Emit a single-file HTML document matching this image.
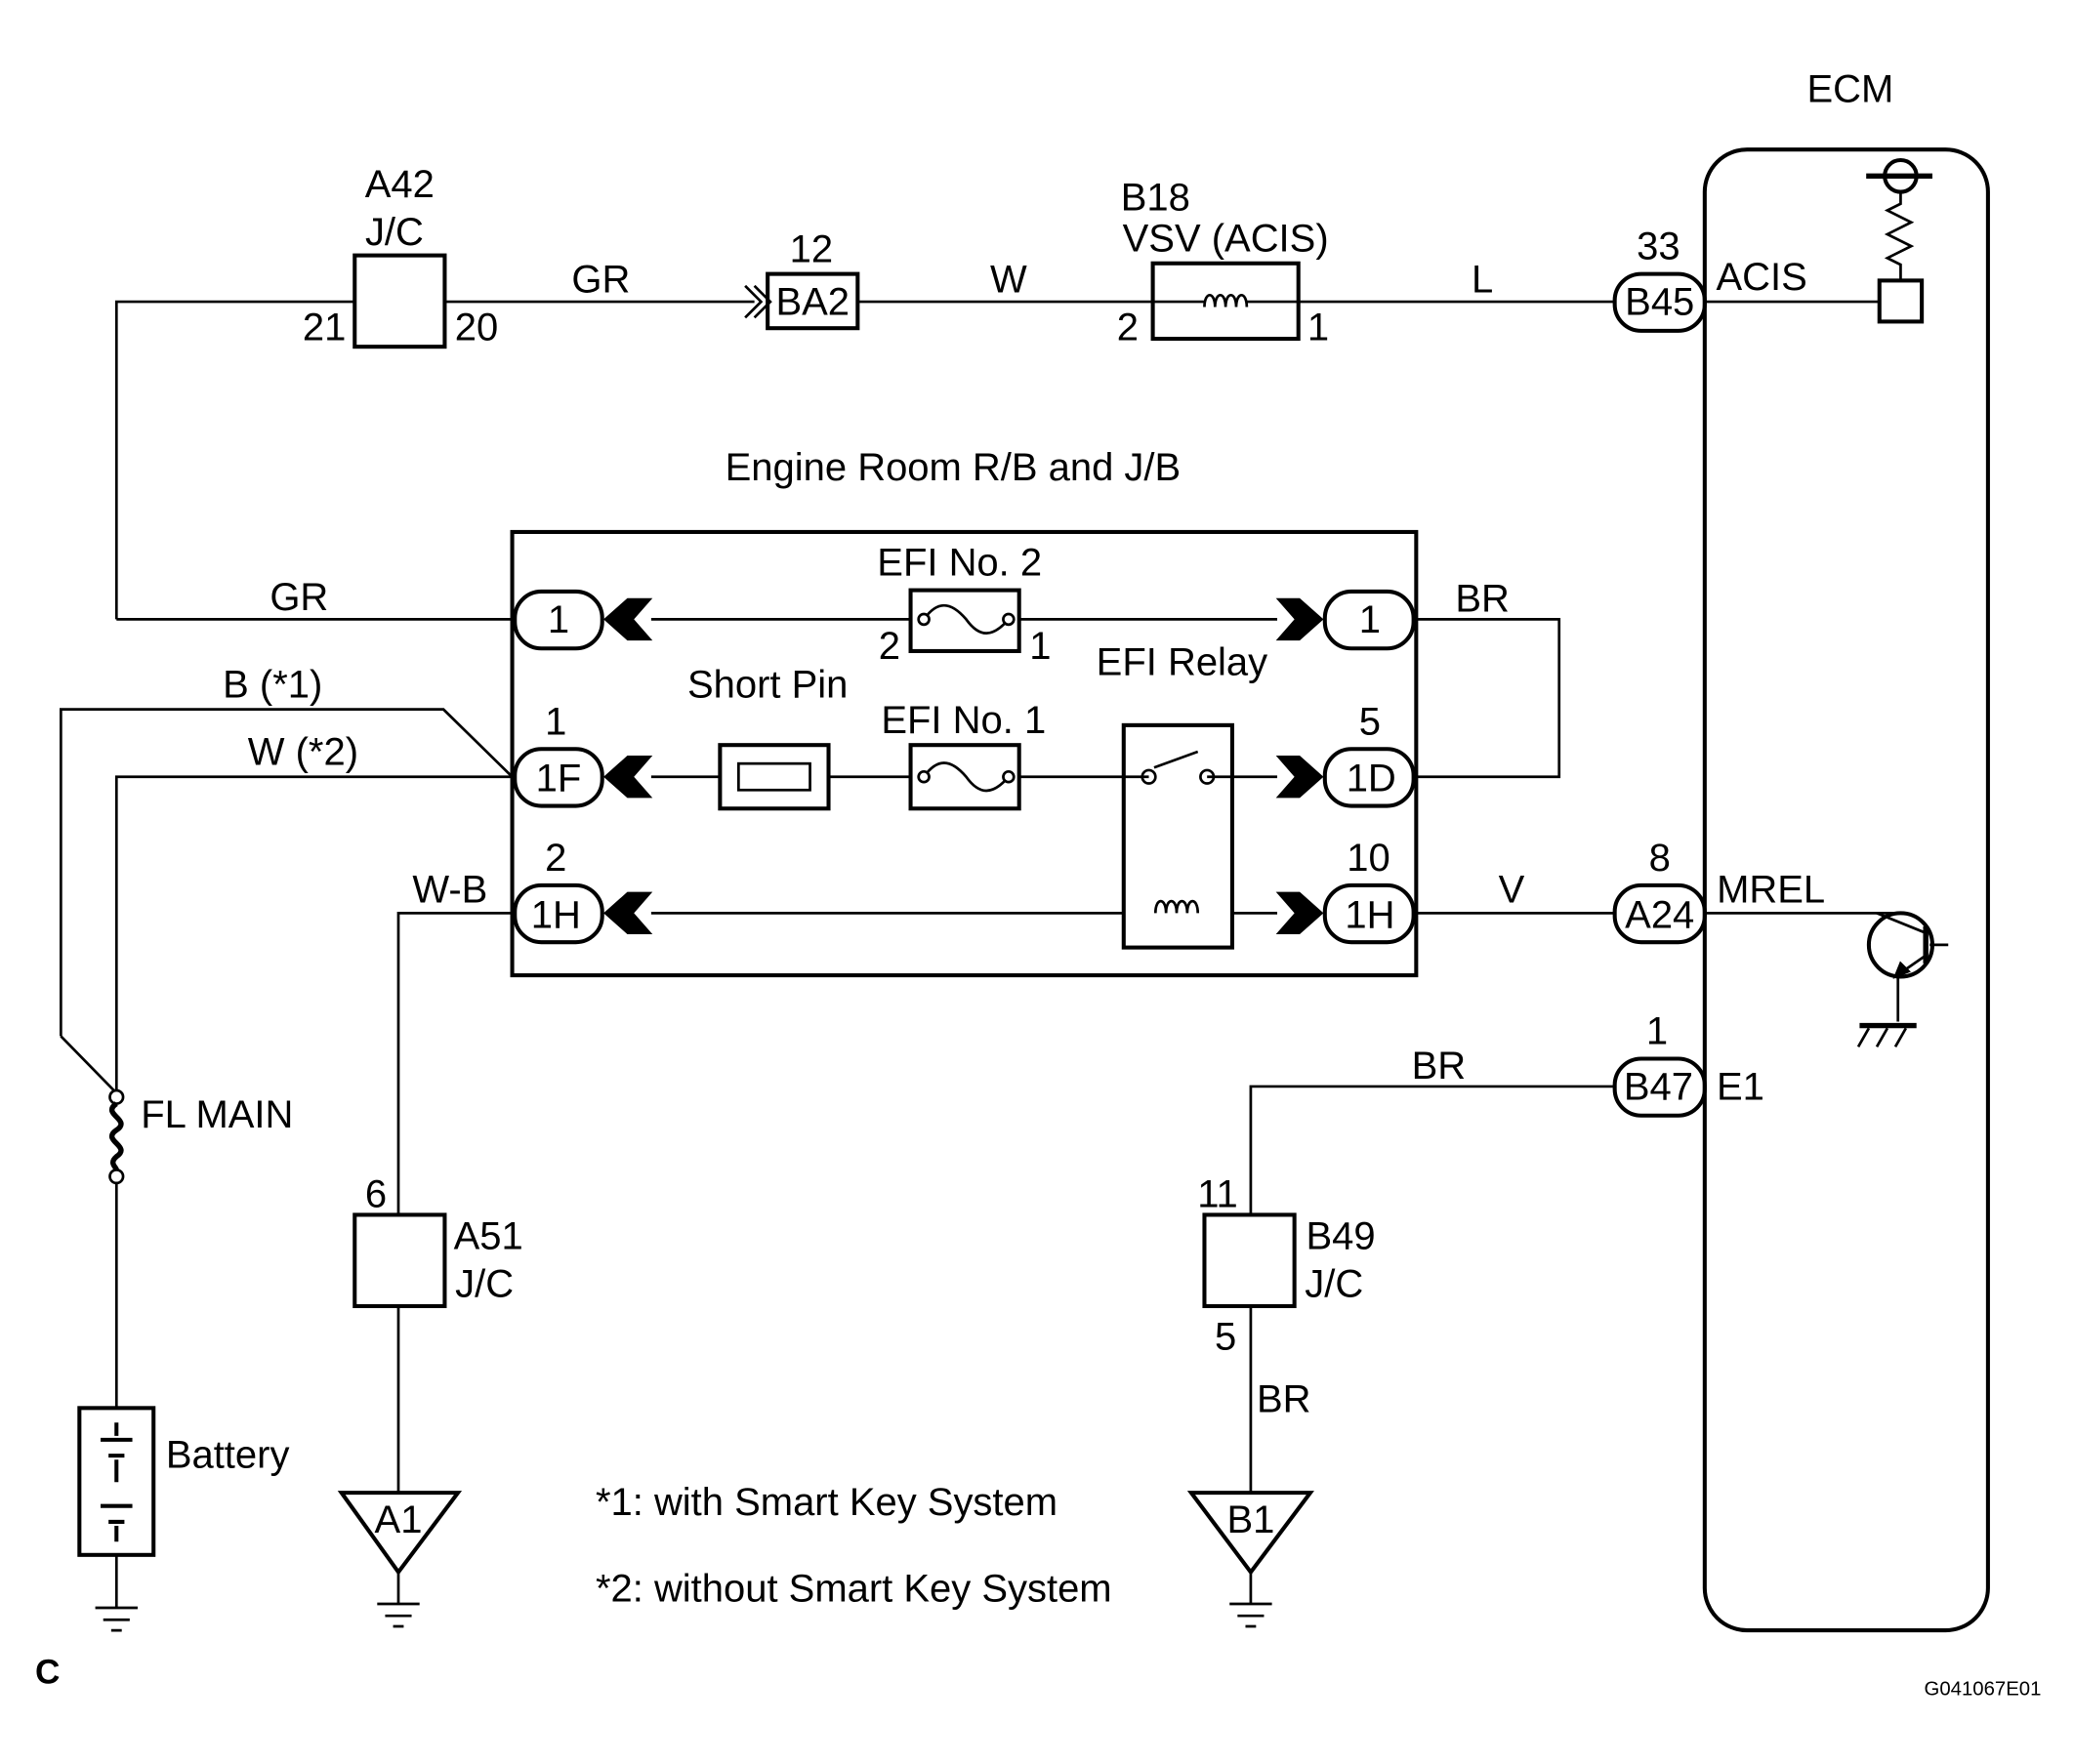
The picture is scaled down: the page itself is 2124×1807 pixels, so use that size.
<!DOCTYPE html>
<html><head><meta charset="utf-8"><style>html,body{margin:0;padding:0;background:#fff}svg{display:block}</style></head><body>
<svg width="2124" height="1807" viewBox="0 0 1567 1333" preserveAspectRatio="none" xmlns="http://www.w3.org/2000/svg" font-family="Liberation Sans, Arial, sans-serif" font-size="29.5" fill="none" stroke="#000">
<g stroke-width="2">
<path d="M88 468 V228 H268 M336 228 H570 M648 228 H871 M981 228 H1220 M1288 228 H1420"/>
<path d="M563 216 l12 12 l-12 12 M570 216 l12 12 l-12 12"/>
<path d="M88 468 H387"/>
<path d="M46 783 V536 H335 L387 587"/>
<path d="M46 783 L88 826"/>
<path d="M88 826 V587 H387"/>
<path d="M88 892 V1064 M88 1175 V1215"/>
<path d="M492 468 H688 M770 468 H965"/>
<path d="M492 587 H544 M626 587 H688 M770 587 H849 M931 587 H965"/>
<path d="M492 690 H849 M931 690 H965"/>
<path d="M1070 468 H1178 V587 H1070"/>
<path d="M387 690 H301 V918 M301 987 V1128 M301 1188 V1212"/>
<path d="M1070 690 H1220 M1288 690 H1436"/>
<path d="M1220 821 H945 V918 M945 987 V1128 M945 1188 V1212"/>
<path d="M1436 212 V200 l-10 -5 l18 -9 l-18 -9 l18 -9 l-18 -9 l10 -5 V146"/>
<path d="M1410 133 H1460" stroke-width="4"/>
<circle cx="1436" cy="133" r="12" stroke-width="3"/>
<circle cx="1436" cy="714" r="24" stroke-width="3"/>
<path d="M1455 700 V728" stroke-width="4"/>
<path d="M1458 714 H1472 M1418 690 L1455 705 M1455 722 L1432 738 M1434 738 V772"/>
<path d="M1432 738 l4 -10 l6 6 z" fill="#000"/>
<path d="M1405 775 H1448" stroke-width="4"/>
<path d="M1412 777 l-8 14 M1426 777 l-8 14 M1440 777 l-8 14"/>
<path d="M72 1215 H104 M78 1224 H98 M84 1232 H92"/>
<path d="M285 1212 H317 M291 1221 H311 M297 1229 H305"/>
<path d="M929 1212 H961 M935 1221 H955 M941 1229 H949"/>
<circle cx="88" cy="829" r="5" fill="#fff"/>
<circle cx="88" cy="889" r="5" fill="#fff"/>
<path d="M88 834 c-12 8 12 12 0 20 c-12 8 12 12 0 20 c-6 5 0 8 0 10" stroke-width="4"/>
<path d="M698 468 c10 -14 20 -14 32 0 c10 14 20 14 32 0"/>
<circle cx="698" cy="468" r="4" fill="#fff"/><circle cx="762" cy="468" r="4" fill="#fff"/>
<path d="M698 587 c10 -14 20 -14 32 0 c10 14 20 14 32 0"/>
<circle cx="698" cy="587" r="4" fill="#fff"/><circle cx="762" cy="587" r="4" fill="#fff"/>
<circle cx="868" cy="587" r="5" fill="#fff"/><circle cx="912" cy="587" r="5" fill="#fff"/>
<path d="M868 587 L849 587 M912 587 H931 M872 580 L905 568"/>
<path d="M873 690 c0 -12 8 -12 8 0 c0 -12 8 -12 8 0 c0 -12 8 -12 8 0 c0 -12 8 -12 8 0"/>
<path d="M871 228 H910 M942 228 H981"/>
<path d="M910 232 c0 -12 8 -12 8 0 c0 -12 8 -12 8 0 c0 -12 8 -12 8 0 c0 -12 8 -12 8 0"/>
</g>
<g stroke-width="3">
<rect x="1288" y="113" width="214" height="1119" rx="32"/>
<rect x="1420" y="212" width="32" height="31"/>
<rect x="268" y="193" width="68" height="69"/>
<rect x="580" y="207" width="68" height="41"/>
<rect x="871" y="199" width="110" height="57"/>
<rect x="387" y="402" width="683" height="335"/>
<rect x="688" y="446" width="82" height="46"/>
<rect x="688" y="563" width="82" height="48"/>
<rect x="544" y="563" width="82" height="48"/>
<rect x="558" y="577" width="54" height="20" stroke-width="2"/>
<rect x="849" y="548" width="82" height="168"/>
<rect x="268" y="918" width="68" height="69"/>
<rect x="910" y="918" width="68" height="69"/>
<rect x="60" y="1064" width="56" height="111"/>
<path d="M258 1128 H346 L301 1188 Z M900 1128 H990 L945 1188 Z"/>
<rect x="1220" y="207" width="68" height="43" rx="20"/>
<rect x="1220" y="669" width="68" height="43" rx="20"/>
<rect x="1220" y="800" width="68" height="43" rx="20"/>
<rect x="389" y="447" width="66" height="43" rx="20"/>
<rect x="389" y="566" width="66" height="43" rx="20"/>
<rect x="389" y="669" width="66" height="43" rx="20"/>
<rect x="1001" y="447" width="67" height="43" rx="20"/>
<rect x="1001" y="566" width="67" height="43" rx="20"/>
<rect x="1001" y="669" width="67" height="43" rx="20"/>
</g>
<g stroke-width="3"><path d="M88 1075 V1085 M76 1088 H100 M82 1100 H94 M88 1103 V1120 M76 1138 H100 M82 1150 H94 M88 1153 V1165"/></g>
<g fill="#000" stroke="none">
<path d="M456 468 L474 452 L493 452 L479 468 L493 484 L474 484Z"/>
<path d="M456 587 L474 571 L493 571 L479 587 L493 603 L474 603Z"/>
<path d="M456 690 L474 674 L493 674 L479 690 L493 706 L474 706Z"/>
<path d="M1000 468 L982 452 L964 452 L978 468 L964 484 L982 484Z"/>
<path d="M1000 587 L982 571 L964 571 L978 587 L964 603 L982 603Z"/>
<path d="M1000 690 L982 674 L964 674 L978 690 L964 706 L982 706Z"/>
</g>
<g fill="#000" stroke="none" text-anchor="middle">
<text x="1398" y="77">ECM</text>
<text x="302" y="149">A42</text><text x="298" y="185">J/C</text>
<text x="245" y="257">21</text><text x="360" y="257">20</text>
<text x="454" y="221">GR</text><text x="613" y="198">12</text><text x="614" y="238">BA2</text>
<text x="762" y="221">W</text><text x="873" y="159">B18</text><text x="926" y="190">VSV (ACIS)</text>
<text x="852" y="257">2</text><text x="996" y="257">1</text>
<text x="1120" y="221">L</text><text x="1253" y="196">33</text><text x="1254" y="238">B45</text>
<text x="1331" y="219">ACIS</text>
<text x="720" y="363">Engine Room R/B and J/B</text>
<text x="226" y="461">GR</text><text x="422" y="478">1</text>
<text x="725" y="435">EFI No. 2</text><text x="672" y="498">2</text><text x="786" y="498">1</text>
<text x="1035" y="478">1</text><text x="1120" y="462">BR</text>
<text x="893" y="510">EFI Relay</text><text x="580" y="527">Short Pin</text><text x="728" y="554">EFI No. 1</text>
<text x="206" y="527">B (*1)</text><text x="229" y="578">W (*2)</text>
<text x="420" y="555">1</text><text x="422" y="598">1F</text>
<text x="1035" y="555">5</text><text x="1036" y="598">1D</text>
<text x="420" y="658">2</text><text x="420" y="701">1H</text><text x="340" y="682">W-B</text>
<text x="1034" y="658">10</text><text x="1035" y="701">1H</text><text x="1142" y="682">V</text>
<text x="1254" y="658">8</text><text x="1254" y="701">A24</text><text x="1338" y="682">MREL</text>
<text x="1252" y="789">1</text><text x="1253" y="831">B47</text><text x="1315" y="831">E1</text>
<text x="1087" y="815">BR</text>
<text x="164" y="852">FL MAIN</text>
<text x="284" y="912">6</text><text x="369" y="944">A51</text><text x="366" y="980">J/C</text>
<text x="920" y="912">11</text><text x="1013" y="944">B49</text><text x="1008" y="980">J/C</text>
<text x="926" y="1020">5</text><text x="970" y="1067">BR</text>
<text x="172" y="1109">Battery</text>
<text x="301" y="1158">A1</text><text x="945" y="1158">B1</text>
<text x="36" y="1272" font-weight="bold" font-size="26">C</text>
<text x="1498" y="1281" font-size="15">G041067E01</text>
</g>
<g fill="#000" stroke="none">
<text x="450" y="1145">*1: with Smart Key System</text>
<text x="450" y="1210">*2: without Smart Key System</text>
</g>
</svg>
</body></html>
